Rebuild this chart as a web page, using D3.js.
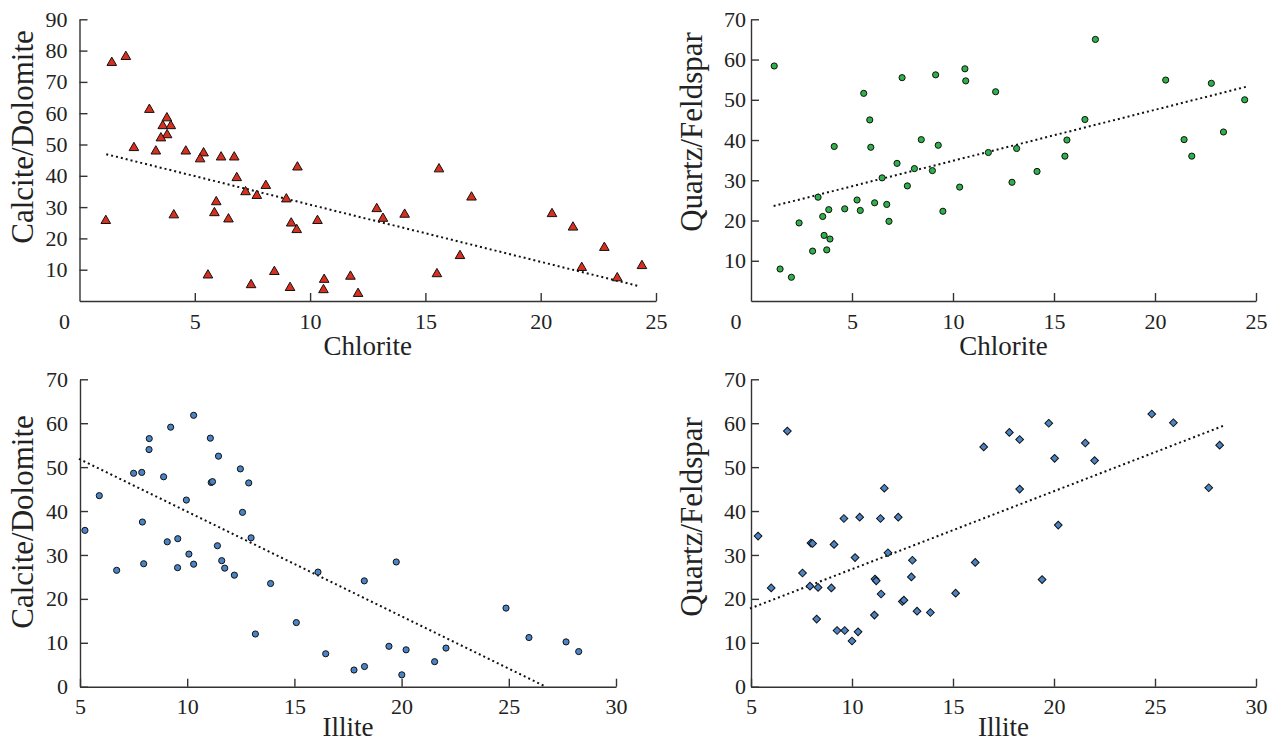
<!DOCTYPE html>
<html>
<head>
<meta charset="utf-8">
<script src="https://cdn.jsdelivr.net/npm/d3@7"></script>
<style>
  body { margin: 0; background: #fff; }
  .axis path, .axis line { stroke: #333; stroke-width: 1.4; }
</style>
</head>
<body>
<div class="graphContainer"></div>
<script>
var width = 1278;
var height = 743;
var serif = "'Liberation Serif', 'Times New Roman', serif";

// Calcite/Dolomite vs Chlorite
var chloriteCalcite = [
  [1.40,76.4],[2.01,78.3],[3.03,61.4],[3.79,58.7],[3.61,56.2],[3.96,56.2],[3.80,53.3],
  [3.53,52.3],[2.36,49.2],[3.31,48.1],[4.61,48.1],[5.38,47.5],[5.23,45.6],[6.14,46.2],
  [6.71,46.2],[9.45,43.0],[6.82,39.6],[8.08,37.1],[7.20,35.1],[7.69,33.9],[8.97,32.8],
  [5.93,31.9],[5.85,28.4],[4.09,27.7],[1.14,25.9],[6.46,26.4],[9.18,25.1],[10.32,25.9],
  [9.42,23.0],[12.89,29.7],[5.57,8.5],[8.45,9.6],[7.44,5.4],[9.13,4.5],[10.61,7.1],
  [10.58,3.8],[11.75,8.1],[12.08,2.6],[13.16,26.6],[14.10,27.9],[15.59,42.4],[17.0,33.4],
  [16.50,14.7],[15.50,8.9],[20.49,28.1],[21.40,23.8],[22.76,17.3],[21.78,10.9],[23.32,7.6],
  [24.39,11.5]
];
// Quartz/Feldspar vs Chlorite
var chloriteQuartz = [
  [1.15,58.4],[1.44,7.95],[2.0,5.9],[2.38,19.4],[3.05,12.4],[3.32,25.8],[3.55,21.0],
  [3.85,22.7],[3.62,16.3],[3.91,15.4],[3.75,12.7],[4.12,38.4],[4.64,22.9],[5.25,25.1],
  [5.41,22.5],[5.58,51.6],[5.88,45.0],[5.93,38.2],[6.12,24.4],[6.49,30.6],[6.72,24.0],
  [6.83,19.8],[7.23,34.2],[7.48,55.5],[7.74,28.6],[8.09,32.9],[8.43,40.1],[8.98,32.4],
  [9.14,56.2],[9.27,38.7],[9.50,22.3],[10.33,28.3],[10.59,57.7],[10.63,54.7],[11.75,36.9],
  [12.11,52.0],[12.92,29.5],[13.15,37.9],[14.16,32.2],[15.54,36.0],[15.64,40.0],[16.53,45.1],
  [17.05,65.0],[20.53,54.9],[21.44,40.1],[21.82,36.0],[22.79,54.1],[23.39,42.0],[24.44,50.0]
];
// Calcite/Dolomite vs Illite
var illiteCalcite = [
  [5.23,35.6],[5.90,43.5],[6.71,26.5],[7.50,48.6],[7.88,48.8],[7.91,37.5],[7.97,28.0],
  [8.22,54.0],[8.23,56.5],[8.90,47.8],[9.07,33.0],[9.23,59.1],[9.56,33.7],[9.55,27.1],
  [9.96,42.5],[10.08,30.2],[10.30,61.8],[10.30,27.9],[11.08,56.6],[11.12,46.5],[11.18,46.7],
  [11.46,52.5],[11.41,32.1],[11.61,28.7],[11.75,27.0],[12.20,25.4],[12.48,49.6],[12.58,39.7],
  [12.87,46.4],[12.98,33.9],[13.18,12.0],[13.89,23.5],[15.09,14.6],[16.10,26.1],[16.46,7.5],
  [17.78,3.8],[18.27,4.6],[18.26,24.1],[19.75,28.4],[19.41,9.2],[20.21,8.4],[20.01,2.7],
  [21.54,5.7],[22.07,8.8],[24.87,17.9],[25.94,11.2],[27.67,10.2],[28.26,8.0]
];
// Quartz/Feldspar vs Illite
var illiteQuartz = [
  [5.35,34.3],[6.0,22.5],[6.80,58.2],[7.55,25.9],[7.92,22.9],[7.97,32.7],[8.05,32.6],
  [8.32,22.6],[8.25,15.4],[8.98,22.5],[9.11,32.4],[9.26,12.8],[9.64,12.8],[9.60,38.3],
  [10.0,10.4],[10.15,29.4],[10.30,12.5],[10.38,38.6],[11.11,16.3],[11.14,24.5],[11.2,24.1],
  [11.41,38.3],[11.44,21.1],[11.60,45.2],[11.78,30.5],[12.29,38.6],[12.49,19.4],[12.57,19.7],
  [12.94,25.0],[12.99,28.8],[13.22,17.2],[13.88,16.9],[15.13,21.3],[16.10,28.3],[16.52,54.6],
  [17.79,57.9],[18.30,56.3],[18.30,45.0],[19.74,60.0],[20.03,52.0],[19.41,24.4],[20.21,36.8],
  [21.55,55.5],[22.01,51.5],[24.84,62.1],[25.91,60.1],[27.66,45.3],[28.20,55.0]
];

// trend line end points
var trendChloriteCalcite = [[1.16,46.9],[24.23,4.8]];
var trendChloriteQuartz = [[1.12,23.6],[24.57,53.3]];
var trendIlliteCalcite = [[4.95,51.9],[26.64,0.2]];
var trendIlliteQuartz = [[4.95,17.8],[28.38,59.4]];

var chloriteTicks = [5, 10, 15, 20, 25];
var illiteTicks = [5, 10, 15, 20, 25, 30];
var calciteTopTicks = [10, 20, 30, 40, 50, 60, 70, 80, 90];
var quartzTopTicks = [10, 20, 30, 40, 50, 60, 70];
var bottomTicks = [0, 10, 20, 30, 40, 50, 60, 70];

var svg = d3.select(".graphContainer")
  .append("svg")
  .attr("width", width)
  .attr("height", height);

var panels = [
  { data: chloriteCalcite, trend: trendChloriteCalcite, x: [0, 25], xr: [79.5, 656], y: [0, 90], yr: [301, 19.3],
    xt: chloriteTicks, yt: calciteTopTicks, xlab: "Chlorite", ylab: "Calcite/Dolomite",
    marker: "triangle", fill: "#d8301f", pad: 12, corner: true, ylabX: 33, ylabY: 137, xlabY: 355 },
  { data: chloriteQuartz, trend: trendChloriteQuartz, x: [0, 25], xr: [751, 1256], y: [0, 70], yr: [301, 19.3],
    xt: chloriteTicks, yt: quartzTopTicks, xlab: "Chlorite", ylab: "Quartz/Feldspar",
    marker: "circle", fill: "#2fb14a", pad: 5, corner: true, ylabX: 702, ylabY: 132, xlabY: 355 },
  { data: illiteCalcite, trend: trendIlliteCalcite, x: [5, 30], xr: [80, 616], y: [0, 70], yr: [686.7, 379.3],
    xt: illiteTicks, yt: bottomTicks, xlab: "Illite", ylab: "Calcite/Dolomite",
    marker: "circle", fill: "#4b84c4", pad: 12, corner: false, ylabX: 33, ylabY: 522, xlabY: 736 },
  { data: illiteQuartz, trend: trendIlliteQuartz, x: [5, 30], xr: [751, 1256], y: [0, 70], yr: [686.7, 379.3],
    xt: illiteTicks, yt: bottomTicks, xlab: "Illite", ylab: "Quartz/Feldspar",
    marker: "diamond", fill: "#4b84c4", pad: 5, corner: false, ylabX: 702, ylabY: 517, xlabY: 736 }
];

panels.forEach(function (p) {
  var xScale = d3.scaleLinear().domain(p.x).range(p.xr);
  var yScale = d3.scaleLinear().domain(p.y).range(p.yr);
  var g = svg.append("g");

  // x axis
  g.append("g")
    .attr("class", "axis")
    .attr("transform", "translate(0," + p.yr[0] + ")")
    .call(d3.axisBottom(xScale).tickValues(p.xt).tickSizeInner(-8).tickSizeOuter(0).tickPadding(12).tickFormat(d3.format("d")));

  // y axis
  g.append("g")
    .attr("class", "axis")
    .attr("transform", "translate(" + p.xr[0] + ",0)")
    .call(d3.axisLeft(yScale).tickValues(p.yt).tickSizeInner(-8).tickSizeOuter(0).tickPadding(p.pad).tickFormat(d3.format("d")));

  g.selectAll(".axis")
    .attr("font-family", serif)
    .attr("font-size", 22);
  g.selectAll(".axis text")
    .style("font-family", serif)
    .style("font-size", "22px")
    .attr("fill", "#222");

  if (p.corner) {
    g.append("text")
      .attr("x", p.xr[0] - 15)
      .attr("y", p.yr[0] + 28)
      .attr("text-anchor", "middle")
      .style("font-family", serif)
      .style("font-size", "22px")
      .attr("fill", "#222")
      .text("0");
  }

  // titles
  g.append("text")
    .attr("x", (p.xr[0] + p.xr[1]) / 2)
    .attr("y", p.xlabY)
    .attr("text-anchor", "middle")
    .style("font-family", serif)
    .style("font-size", "27px")
    .attr("fill", "#222")
    .text(p.xlab);

  g.append("text")
    .attr("transform", "translate(" + p.ylabX + "," + p.ylabY + ") rotate(-90)")
    .attr("text-anchor", "middle")
    .style("font-family", serif)
    .style("font-size", "31px")
    .attr("fill", "#222")
    .text(p.ylab);

  // trend line
  g.append("line")
    .attr("x1", xScale(p.trend[0][0]))
    .attr("y1", yScale(p.trend[0][1]))
    .attr("x2", xScale(p.trend[1][0]))
    .attr("y2", yScale(p.trend[1][1]))
    .attr("stroke", "#111")
    .attr("stroke-width", 2)
    .attr("stroke-dasharray", "2,3");

  // points
  var sym;
  if (p.marker == "triangle") sym = d3.symbol().type(d3.symbolTriangle).size(40);
  else if (p.marker == "diamond") sym = d3.symbol().type(d3.symbolSquare).size(30);
  else sym = d3.symbol().type(d3.symbolCircle).size(30);

  g.selectAll("path.pt")
    .data(p.data)
    .enter()
    .append("path")
    .attr("class", "pt")
    .attr("d", sym)
    .attr("transform", function (d) {
      var t = "translate(" + xScale(d[0]) + "," + (yScale(d[1]) + (p.marker == "triangle" ? 0.8 : 0)) + ")";
      if (p.marker == "diamond") t += " rotate(45)";
      return t;
    })
    .attr("fill", p.fill)
    .attr("stroke", "#111")
    .attr("stroke-width", 1);
});
</script>
</body>
</html>
